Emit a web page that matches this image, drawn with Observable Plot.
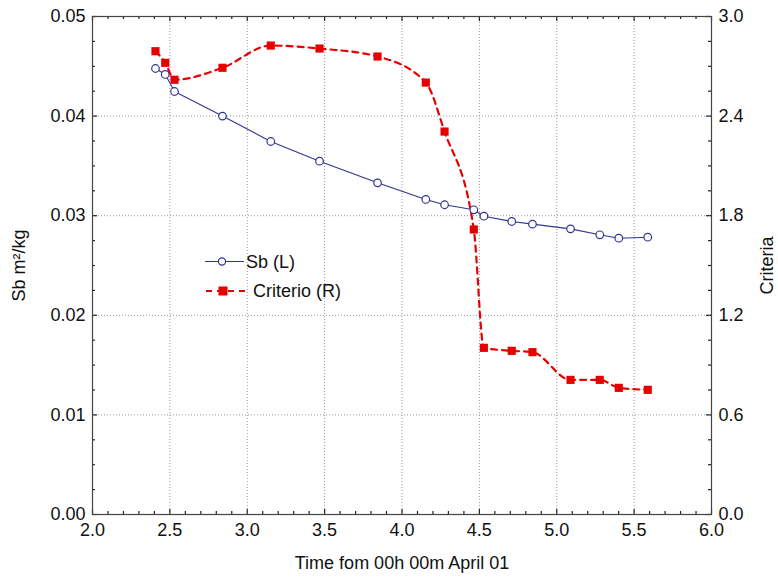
<!DOCTYPE html>
<html><head><meta charset="utf-8">
<script src="https://cdn.jsdelivr.net/npm/d3@7"></script>
<script src="https://cdn.jsdelivr.net/npm/@observablehq/plot@0.6"></script>
<style>
body{margin:0;background:#fff;}
#wrap{position:relative;width:778px;height:577px;font-family:"Liberation Sans",Arial,sans-serif;}
#legend{position:absolute;left:0;top:0;pointer-events:none;}
</style></head><body><div id="wrap"><div id="chart"></div><div id="legend"></div></div>
<script>
// Data
const time = [2.407, 2.47, 2.53, 2.84, 3.152, 3.467, 3.842, 4.154, 4.275, 4.464, 4.529, 4.709, 4.843, 5.089, 5.278, 5.401, 5.588];
const sb = [0.04478, 0.04418, 0.04247, 0.0400, 0.03745, 0.03547, 0.03330, 0.03163, 0.03110, 0.03059, 0.02995, 0.02942, 0.02915, 0.02868, 0.02808, 0.02774, 0.02784];
const criterio = [2.791, 2.721, 2.619, 2.691, 2.825, 2.807, 2.759, 2.602, 2.307, 1.717, 1.004, 0.986, 0.978, 0.811, 0.811, 0.763, 0.751];
const xTicks = [2.0, 2.5, 3.0, 3.5, 4.0, 4.5, 5.0, 5.5, 6.0];
const xMinorTicks = d3.range(20, 61).map(d => d / 10).filter((d, i) => i % 5 !== 0);
const yLeftTicks = [0, 0.01, 0.02, 0.03, 0.04, 0.05];
const yMinorTicks = d3.range(0, 21).map(d => d * 0.0025).filter((d, i) => i % 4 !== 0);
const yRightTicks = [0.0, 0.6, 1.2, 1.8, 2.4, 3.0];
const rightMax = 3.0, leftMax = 0.05;
const toLeft = v => v * leftMax / rightMax;

const rows = time.map((t, i) => ({t, sb: sb[i], cr: toLeft(criterio[i])}));
const blue = "#33338f", red = "#e60000";

const W = 778, H = 577, mL = 92, mR = 67, mT = 16, mB = 63;
const fw = W - mL - mR, fh = H - mT - mB;
const tk = {stroke: "#222", strokeWidth: 1.2};
// inward tick marks on all four sides, length via insets
const ticksX = (vals, len) => [
  Plot.tickX(vals, {x: d => d, insetTop: fh - len, ...tk}),
  Plot.tickX(vals, {x: d => d, insetBottom: fh - len, ...tk})
];
const ticksY = (vals, len) => [
  Plot.tickY(vals, {y: d => d, insetRight: fw - len, ...tk}),
  Plot.tickY(vals, {y: d => d, insetLeft: fw - len, ...tk})
];

const chart = Plot.plot({
  width: W, height: H,
  marginLeft: mL, marginRight: mR, marginTop: mT, marginBottom: mB,
  style: {fontFamily: "'Liberation Sans', Arial, sans-serif", fontSize: "18px", color: "#111", background: "#fff"},
  x: {domain: [2, 6]},
  y: {domain: [0, 0.05]},
  marks: [
    Plot.gridX(xTicks.slice(1, -1), {stroke: "#999", strokeOpacity: 1, strokeDasharray: "1,2"}),
    Plot.gridY(yLeftTicks.slice(1, -1), {stroke: "#999", strokeOpacity: 1, strokeDasharray: "1,2"}),
    ...ticksX(xTicks, 5), ...ticksX(xMinorTicks, 3),
    ...ticksY(yLeftTicks, 5), ...ticksY(yMinorTicks, 3),
    // labels
    Plot.axisX({ticks: xTicks, tickSize: 0, tickPadding: 9, tickFormat: d3.format(".1f"), fontSize: 18,
      label: "Time fom 00h 00m April 01", labelAnchor: "center", labelOffset: 54, labelArrow: "none"}),
    Plot.axisY({ticks: yLeftTicks, tickSize: 0, tickPadding: 7, tickFormat: d3.format(".2f"), fontSize: 18,
      label: "Sb m²/kg", labelAnchor: "center", labelOffset: 80, labelArrow: "none"}),
    Plot.axisY({anchor: "right", ticks: yRightTicks.map(toLeft), tickSize: 0, tickPadding: 7, fontSize: 18,
      tickFormat: d => (d * rightMax / leftMax).toFixed(1),
      label: "Criteria", labelAnchor: "center", labelOffset: 61, labelArrow: "none"}),
    Plot.frame({stroke: "#444", strokeWidth: 1.2}),
    // series
    Plot.line(rows, {x: "t", y: "cr", stroke: red, strokeWidth: 2.2, strokeDasharray: "6,5", curve: "monotone-x"}),
    Plot.dot(rows, {x: "t", y: "cr", symbol: "square", r: 4.6, fill: red, stroke: "none"}),
    Plot.line(rows, {x: "t", y: "sb", stroke: blue, strokeWidth: 1.1}),
    Plot.dot(rows, {x: "t", y: "sb", r: 3.8, fill: "#fff", stroke: blue, strokeWidth: 1.2})
  ]
});
document.getElementById("chart").append(chart);

// Legend overlay
const lg = d3.select("#legend").append("svg").attr("width", W).attr("height", H)
  .style("font-family", "'Liberation Sans', Arial, sans-serif");
const L = lg.append("g");
L.append("line").attr("x1", 205).attr("x2", 244).attr("y1", 261.5).attr("y2", 261.5).attr("stroke", blue).attr("stroke-width", 1.1);
L.append("circle").attr("cx", 222).attr("cy", 261.5).attr("r", 3.6).attr("fill", "#fff").attr("stroke", blue).attr("stroke-width", 1.2);
L.append("text").attr("x", 246).attr("y", 261.5).attr("dy", "0.35em").attr("font-size", 18).attr("fill", "#111").text("Sb (L)");
L.append("line").attr("x1", 206).attr("x2", 249).attr("y1", 291).attr("y2", 291).attr("stroke", red).attr("stroke-width", 2.2).attr("stroke-dasharray", "6,5");
L.append("rect").attr("x", 218.5).attr("y", 286.5).attr("width", 9).attr("height", 9).attr("fill", red);
L.append("text").attr("x", 253).attr("y", 291).attr("dy", "0.35em").attr("font-size", 18).attr("fill", "#111").text("Criterio (R)");
</script></body></html>
